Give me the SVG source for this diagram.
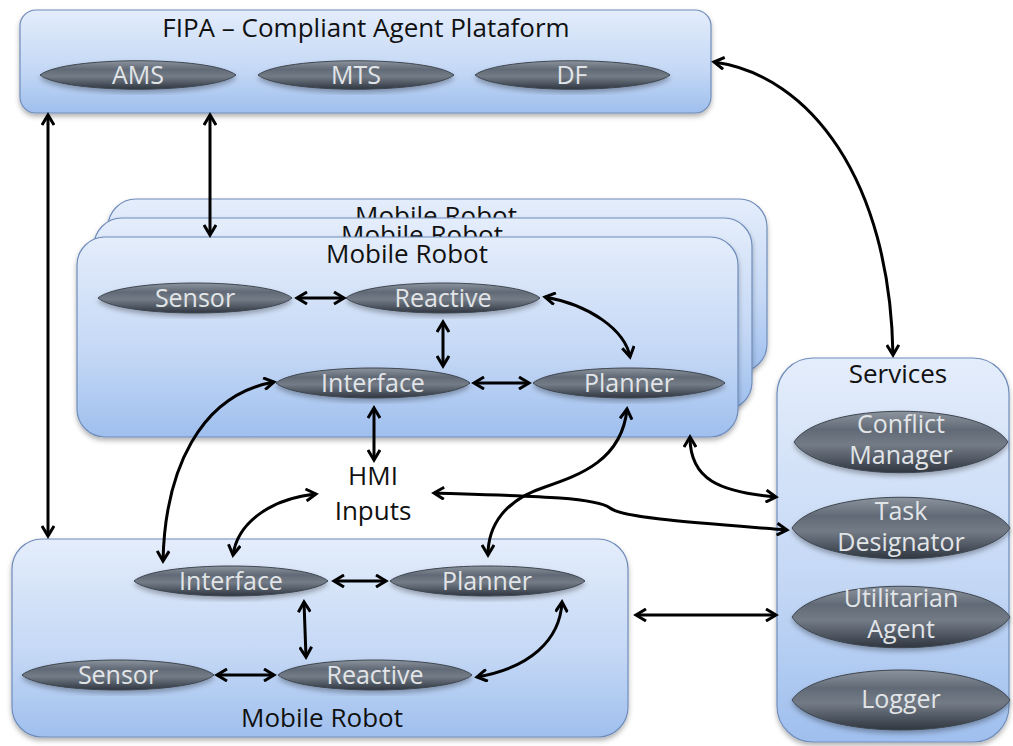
<svg xmlns="http://www.w3.org/2000/svg" width="1013" height="746" viewBox="0 0 1013 746">
<defs>
<linearGradient id="boxg" x1="0" y1="0" x2="0" y2="1">
<stop offset="0" stop-color="#e4edfb"/>
<stop offset="0.6" stop-color="#c3d7f5"/>
<stop offset="1" stop-color="#9fbfee"/>
</linearGradient>
<linearGradient id="leng" x1="0" y1="0" x2="0" y2="1">
<stop offset="0" stop-color="#8c949e"/>
<stop offset="0.3" stop-color="#616a76"/>
<stop offset="0.55" stop-color="#737b86"/>
<stop offset="0.75" stop-color="#555d68"/>
<stop offset="1" stop-color="#2f363f"/>
</linearGradient>
<filter id="sh" x="-10%" y="-10%" width="120%" height="130%">
<feDropShadow dx="0" dy="3" stdDeviation="2.5" flood-color="#000" flood-opacity="0.3"/>
</filter>
<marker id="ah" viewBox="0 0 15 14" markerWidth="15" markerHeight="14" refX="12" refY="7" orient="auto-start-reverse" markerUnits="userSpaceOnUse">
<path d="M2,1 L12,7 L2,13" fill="none" stroke="#000" stroke-width="3" stroke-linejoin="miter"/>
</marker>
</defs>
<style>
.box{fill:url(#boxg);stroke:#6f8cba;stroke-width:1.2;filter:url(#sh)}
.lens{fill:url(#leng);stroke:#3e4650;stroke-width:1;filter:url(#sh)}
.hdr{font-family:"Open Sans","DejaVu Sans",sans-serif;font-size:26px;fill:#111;text-anchor:middle}
.lbl{font-family:"Open Sans","DejaVu Sans",sans-serif;font-size:25px;fill:#e2e5e8;text-anchor:middle}
.con{fill:none;stroke:#000;stroke-width:3;marker-start:url(#ah);marker-end:url(#ah)}
</style>
<rect width="1013" height="746" fill="#fff"/>

<g id="fipa">
<rect class="box" x="20" y="10" width="691" height="103" rx="16"/>
<text class="hdr" x="366" y="37">FIPA – Compliant Agent Plataform</text>
<g id="ams"><path class="lens" d="M40,75 C64,56 212,56 236,75 C212,94 64,94 40,75 Z"/><text class="lbl" x="138" y="84">AMS</text></g>
<g id="mts"><path class="lens" d="M258,75 C282,56 430,56 454,75 C430,94 282,94 258,75 Z"/><text class="lbl" x="356" y="84">MTS</text></g>
<g id="df"><path class="lens" d="M475,75 C499,56 646,56 670,75 C646,94 499,94 475,75 Z"/><text class="lbl" x="572" y="84">DF</text></g>
</g>

<g id="robot3">
<rect class="box" x="108" y="199" width="659" height="173" rx="28"/>
<text class="hdr" x="436" y="225">Mobile Robot</text>
</g>
<g id="robot2">
<rect class="box" x="94" y="218" width="658" height="192" rx="28"/>
<text class="hdr" x="422" y="244">Mobile Robot</text>
</g>
<g id="robot1">
<rect class="box" x="77" y="237" width="661" height="200" rx="28"/>
<text class="hdr" x="407" y="263">Mobile Robot</text>
<g id="r1-sensor"><path class="lens" d="M98,298 C121,278 269,278 292,298 C269,318 121,318 98,298 Z"/><text class="lbl" x="195" y="307">Sensor</text></g>
<g id="r1-reactive"><path class="lens" d="M346,298 C369,278 517,278 540,298 C517,318 369,318 346,298 Z"/><text class="lbl" x="443" y="307">Reactive</text></g>
<g id="r1-interface"><path class="lens" d="M276,383 C299,363 447,363 470,383 C447,403 299,403 276,383 Z"/><text class="lbl" x="373" y="392">Interface</text></g>
<g id="r1-planner"><path class="lens" d="M533,383 C556,363 702,363 725,383 C702,403 556,403 533,383 Z"/><text class="lbl" x="629" y="392">Planner</text></g>
</g>

<g id="robot-bottom">
<rect class="box" x="12" y="539" width="616" height="198" rx="30"/>
<text class="hdr" x="322" y="727">Mobile Robot</text>
<g id="rb-interface"><path class="lens" d="M134,581 C157,561 305,561 328,581 C305,601 157,601 134,581 Z"/><text class="lbl" x="231" y="590">Interface</text></g>
<g id="rb-planner"><path class="lens" d="M390,581 C413,561 562,561 585,581 C562,601 413,601 390,581 Z"/><text class="lbl" x="487" y="590">Planner</text></g>
<g id="rb-sensor"><path class="lens" d="M22,675 C45,655 191,655 214,675 C191,695 45,695 22,675 Z"/><text class="lbl" x="118" y="684">Sensor</text></g>
<g id="rb-reactive"><path class="lens" d="M278,675 C301,655 449,655 472,675 C449,695 301,695 278,675 Z"/><text class="lbl" x="375" y="684">Reactive</text></g>
</g>

<g id="hmi">
<text class="hdr" x="373" y="485">HMI</text>
<text class="hdr" x="373" y="520">Inputs</text>
</g>

<g id="services">
<rect class="box" x="777" y="358" width="232" height="384" rx="36"/>
<text class="hdr" x="898" y="383">Services</text>
<g id="conflict"><path class="lens" d="M794,442 C820,401 982,401 1008,442 C982,483 820,483 794,442 Z"/><text class="lbl" x="901" y="433">Conflict</text><text class="lbl" x="901" y="464">Manager</text></g>
<g id="task"><path class="lens" d="M792,528 C818,487 984,487 1010,528 C984,569 818,569 792,528 Z"/><text class="lbl" x="901" y="520">Task</text><text class="lbl" x="901" y="551">Designator</text></g>
<g id="util"><path class="lens" d="M792,617 C818,576 984,576 1010,617 C984,658 818,658 792,617 Z"/><text class="lbl" x="901" y="607">Utilitarian</text><text class="lbl" x="901" y="638">Agent</text></g>
<g id="logger"><path class="lens" d="M792,700 C818,660 984,660 1010,700 C984,740 818,740 792,700 Z"/><text class="lbl" x="901" y="708">Logger</text></g>
</g>

<g id="connectors">
<path class="con" d="M210,115 L210,235"/>
<path class="con" d="M48,115 L48,536"/>
<path class="con" d="M714,62 C810,75 890,180 893,355"/>
<path class="con" d="M297,298 L344,298"/>
<path class="con" d="M443,322 L443,366"/>
<path class="con" d="M474,383 L529,383"/>
<path class="con" d="M545,297 C590,305 625,330 630,357"/>
<path class="con" d="M374,408 L374,460"/>
<path class="con" d="M163,561 C165,470 200,395 274,382"/>
<path class="con" d="M233,555 C238,520 275,498 316,494"/>
<path class="con" d="M627,409 C622,460 580,475 545,487 C505,500 488,525 488,555"/>
<path class="con" d="M434,493 C530,496 595,497 610,508 C622,518 700,523 787,530"/>
<path class="con" d="M690,437 C690,480 720,492 776,497"/>
<path class="con" d="M304,602 L306,657"/>
<path class="con" d="M334,581 L386,581"/>
<path class="con" d="M217,675 L274,675"/>
<path class="con" d="M477,677 C530,668 560,640 562,602"/>
<path class="con" d="M636,615 L776,615"/>
</g>
</svg>
